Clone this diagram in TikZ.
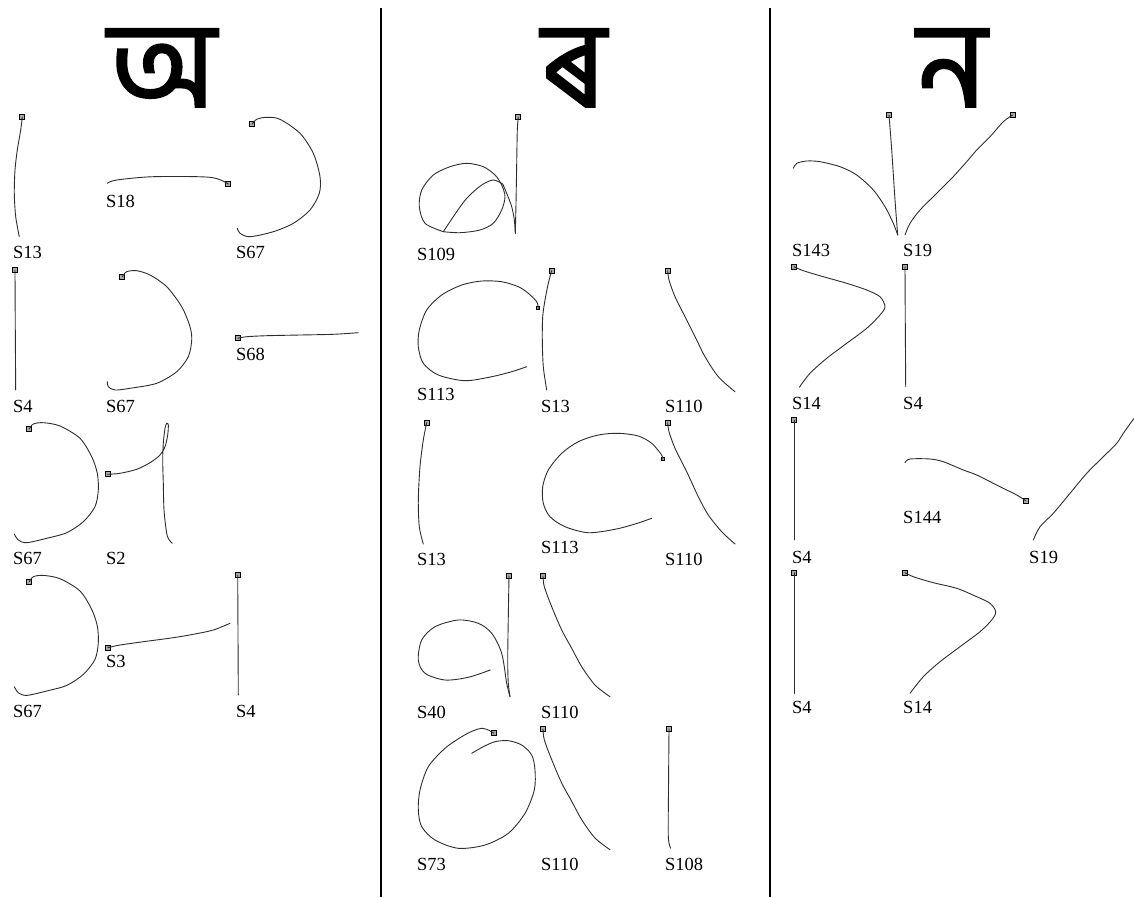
\documentclass[tikz,border=0pt]{standalone}
\usepackage{fontspec}
\setmainfont{Liberation Serif}
\newfontfamily\bngfont[Script=Bengali, FakeBold=1.4]{Hind Siliguri}
\usetikzlibrary{positioning}
\definecolor{inkline}{RGB}{45,45,45}
\definecolor{markfill}{RGB}{170,170,170}
\tikzset{
  pen/.style={draw=inkline, line width=0.9pt, line join=round, line cap=round},
  startpt/.style={rectangle, draw=black, fill=markfill, line width=0.8pt,
    minimum size=5pt, inner sep=0pt},
  lbl/.style={font=\fontsize{18.5}{20}\selectfont, inner sep=0pt, anchor=base west},
  glyph/.style={font=\fontsize{122}{122}\selectfont\bngfont, inner sep=0pt, anchor=base},
  divider/.style={draw=black, line width=1.2pt},
}

\begin{document}
\begin{tikzpicture}[x=1pt, y=-1pt]
\useasboundingbox (0,0) rectangle (1134,897);

%% ─── COLUMN DIVIDERS ───────────────────────────────────────
\coordinate (d1top) at (381,8);
\coordinate (d1bot) at (381,897);
\coordinate (d2top) at (770,8);
\coordinate (d2bot) at (770,897);
\draw[divider] (d1top) -- (d1bot);
\draw[divider] (d2top) -- (d2bot);

%% ─── HEADERS ───────────────────────────────────────────────
\node[glyph] (hdA)  at (162,107) {অ};
\node[glyph] (hdRa) at (574,107) {ৰ};
\node[glyph] (hdNa) at (952,107) {ন};

%% ─── COLUMN 1 : অ ──────────────────────────────────────────
% S13
\node[startpt] (a1) at (22.3,117) {};
\draw[pen] plot[smooth] coordinates {(22.3,117) (20.7,130) (17.3,150) (15,170) (14.3,193.3) (15.7,216.7) (19.3,236.7)};
\node[lbl] (la1) at (13,258) {S13};
% S18
\node[startpt] (a2) at (228.3,184) {};
\draw[pen] plot[smooth] coordinates {(228.3,184) (210,177.3) (153.3,176.7) (116.7,180) (107.3,183.3)};
\node[lbl] (la2) at (106,207) {S18};
% S67
\node[startpt] (a3) at (252.3,124) {};
\draw[pen] plot[smooth] coordinates {(252.3,124) (256.7,119.3) (266.7,117.3) (280,119.3) (300,133.3) (313.3,153.3) (320,176.7) (319.3,193.3) (310,210) (293.3,223.3) (273.3,231.7) (250,236.7) (240,233.3) (237.3,228.3)};
\node[lbl] (la3) at (236,258) {S67};
% S4
\node[startpt] (a4) at (15,270) {};
\draw[pen] plot[smooth] coordinates {(15,270) (15.3,330) (15.7,390)};
\node[lbl] (la4) at (13,412) {S4};
% S67
\node[startpt] (a5) at (122.3,276.7) {};
\draw[pen] plot[smooth] coordinates {(122.3,276.7) (126.7,271.7) (136.7,270.7) (150,275) (166.7,286.7) (181.7,306.7) (190,326.7) (191.7,340) (188.3,356.7) (176.7,371.7) (156.7,383.3) (130,388.3) (115,390) (108.3,386.7) (107.3,381.7)};
\node[lbl] (la5) at (106,412) {S67};
% S68
\node[startpt] (a6) at (237.7,338.3) {};
\draw[pen] plot[smooth] coordinates {(237.7,338.3) (246.7,336.7) (266.7,335.7) (300,335) (333.3,334.3) (358.3,332.7)};
\node[lbl] (la6) at (236,360) {S68};
% S67
\node[startpt] (a7) at (29.3,429) {};
\draw[pen] plot[smooth] coordinates {(29.3,429) (33.3,424) (43.3,422.7) (60,426) (80,438.3) (91.7,456.7) (97.3,473.3) (98.3,490) (95,506.7) (83.3,521.7) (66.7,532.7) (46.7,538.3) (26.7,542.7) (18.3,540) (14.3,534)};
\node[lbl] (la7) at (13,564) {S67};
% S2
\node[startpt] (a8) at (107.7,474.3) {};
\draw[pen] plot[smooth] coordinates {(107.7,474.3) (120,473.3) (136.7,469.3) (150,462.7) (160,455) (165,446.7) (167.7,435) (168.3,425) (166.7,423.3) (165,428.3) (163.3,443.3) (162.7,460) (163.3,483.3) (164,510) (166.7,533.3) (169.3,540) (172.3,543.3)};
\node[lbl] (la8) at (106,564) {S2};
% S67
\node[startpt] (a9) at (29.3,581.7) {};
\draw[pen] plot[smooth] coordinates {(29.3,581.7) (33.3,576.7) (43.3,575.4) (60,578.7) (80,591) (91.7,609.4) (97.3,626) (98.3,642.7) (95,659.4) (83.3,674.4) (66.7,685.4) (46.7,691) (26.7,695.4) (18.3,692.7) (14.3,686.7)};
\node[lbl] (la9) at (13,717) {S67};
% S3
\node[startpt] (a10) at (107.7,647.7) {};
\draw[pen] plot[smooth] coordinates {(107.7,647.7) (120,645) (143.3,641.7) (173.3,637.7) (193.3,634.3) (213.3,630) (230,623.3)};
\node[lbl] (la10) at (106,667) {S3};
% S4
\node[startpt] (a11) at (237.7,575) {};
\draw[pen] plot[smooth] coordinates {(237.7,575) (238,635) (238.3,695)};
\node[lbl] (la11) at (236,717) {S4};

%% ─── COLUMN 2 : ৰ ──────────────────────────────────────────
% S109
\node[startpt] (b1) at (518.3,117.3) {};
\draw[pen] plot[smooth] coordinates {(518.3,117.3) (517.3,130) (516.7,163.3) (516,203.3) (515.3,233.3)};
\draw[pen] plot[smooth] coordinates {(515.3,233.3) (514.3,220) (511.7,206.7) (506.7,193.3) (502.7,184)};
\draw[pen] plot[smooth] coordinates {(502.7,184) (493.3,180) (481.7,185) (466.7,198.3) (453.3,216.7) (443.3,231.7)};
\draw[pen] plot[smooth] coordinates {(443.3,231.7) (460,232.7) (480,230) (493.3,223.3) (501.7,210) (505,196.7) (501.7,185) (495,175) (483.3,166.7) (466.7,163.3) (450,166.7) (433.3,175) (421.7,190) (419.3,206.7) (425,223.3) (443.3,231.7)};
\node[lbl] (lb1) at (417,260) {S109};
% S113
\node[startpt, minimum size=3pt] (b2) at (538.3,308.3) {};
\draw[pen] plot[smooth] coordinates {(538.3,308.3) (536.7,301.7) (528.3,293.3) (518.3,286.7) (501.7,281.7) (481.7,281) (461.7,285) (441.7,295) (426.7,310) (419.3,330) (418.3,346.7) (423.3,363.3) (438.3,375) (465,380.7) (491.7,376.7) (511.7,371.7) (526.7,366.7)};
\node[lbl] (lb2) at (417,400) {S113};
% S13
\node[startpt] (b3) at (551.7,270.7) {};
\draw[pen] plot[smooth] coordinates {(551.7,270.7) (548.3,283.3) (545,300) (542.7,316.7) (542.3,340) (543.3,366.7) (546.7,390)};
\node[lbl] (lb3) at (541,412) {S13};
% S110
\node[startpt] (b4) at (667.7,270.7) {};
\draw[pen] plot[smooth] coordinates {(667.7,270.7) (669,280) (675,296.7) (685,316.7) (696.7,340) (705,356.7) (718.3,376.7) (735,391.7)};
\node[lbl] (lb4) at (665,412) {S110};
% S13
\node[startpt] (b5) at (426.7,422.7) {};
\draw[pen] plot[smooth] coordinates {(426.7,422.7) (423.3,440) (420,466.7) (418.3,500) (419.3,526.7) (423.3,544)};
\node[lbl] (lb5) at (417,565) {S13};
% S113
\node[startpt, minimum size=3pt] (b6) at (662.7,459.3) {};
\draw[pen] plot[smooth] coordinates {(662.7,459.3) (661.7,455) (651.7,443.3) (638.3,436) (618.3,433.3) (598.3,435) (578.3,441.7) (561.7,453.3) (548.3,470) (542.7,486.7) (543.3,503.3) (550,516.7) (565,526.7) (588.3,532.7) (615,529.3) (635,524) (651.7,518.3)};
\node[lbl] (lb6) at (541,553) {S113};
% S110
\node[startpt] (b7) at (667.7,422.7) {};
\draw[pen] plot[smooth] coordinates {(667.7,422.7) (669,431.7) (675,448.3) (686.7,471.7) (698.3,496.7) (708.3,515) (721.7,531.7) (735,544)};
\node[lbl] (lb7) at (665,565) {S110};
% S40
\node[startpt] (b8) at (509,576) {};
\draw[pen] plot[smooth] coordinates {(509,576) (508.3,616.7) (507.7,660) (508.3,683.3) (510,696.7)};
\draw[pen] plot[smooth] coordinates {(510,696.7) (506.7,683.3) (501.7,653.3) (491.7,633.3) (478.3,623.3) (458.3,620) (435,626.7) (421.7,640) (418.3,660) (425,673.3) (445,680) (468.3,677.3) (490.3,670)};
\node[lbl] (lb8) at (417,718) {S40};
% S110
\node[startpt] (b9) at (543,576) {};
\draw[pen] plot[smooth] coordinates {(543,576) (544.3,586.7) (551.7,606.7) (561.7,630) (571.7,648.3) (581.7,666.7) (595,685) (610,696.7)};
\node[lbl] (lb9) at (541,718) {S110};
% S73
\node[startpt] (b10) at (494,733.3) {};
\draw[pen] plot[smooth] coordinates {(494,733.3) (488.3,730) (481.7,728.3) (473.3,730.7) (461.7,736.7) (445,748.3) (428.3,766.7) (420,790) (418.3,810) (421.7,826.7) (435,840) (458.3,848.3) (485,845) (508.3,833.3) (525,813.3) (534.3,790) (535,770) (531.7,755) (521.7,745) (508.3,740.7) (495,741.7) (483.3,746.7) (471.7,753.3)};
\node[lbl] (lb10) at (417,870) {S73};
% S110
\node[startpt] (b11) at (543,729) {};
\draw[pen] plot[smooth] coordinates {(543,729) (544.3,739.7) (551.7,759.7) (561.7,783) (571.7,801.3) (581.7,819.7) (595,838) (610,849.7)};
\node[lbl] (lb11) at (541,870) {S110};
% S108
\node[startpt] (b12) at (669,729) {};
\draw[pen] plot[smooth] coordinates {(669,729) (668.5,790) (668.3,836.7) (670.7,848.3)};
\node[lbl] (lb12) at (665,870) {S108};

%% ─── COLUMN 3 : ন ──────────────────────────────────────────
% S143
\node[startpt] (c1) at (889,115) {};
\draw[pen] plot[smooth] coordinates {(889,115) (891.7,150) (895,200) (897.7,235)};
\draw[pen] plot[smooth] coordinates {(897.7,235) (893.3,223.3) (885,206.7) (873.3,190) (856.7,175) (840,166.7) (820,161.7) (806.7,161) (796.7,163.3) (793.3,168.3)};
\node[lbl] (lc1) at (792,256) {S143};
% S19
\node[startpt] (c2) at (1012.7,115) {};
\draw[pen] plot[smooth] coordinates {(1012.7,115) (1003.3,121.7) (990,136.7) (976.7,150) (966.7,161.7) (951.7,178.3) (936.7,193.3) (920,210) (910,223.3) (905,235)};
\node[lbl] (lc2) at (903,256) {S19};
% S14
\node[startpt] (c3) at (794,266.7) {};
\draw[pen] plot[smooth] coordinates {(794,266.7) (803.3,270.7) (823.3,276.7) (846.7,283.3) (866.7,290) (880,296.7) (885,306.7) (880,315) (866.7,328.3) (846.7,343.3) (826.7,358.3) (810,373.3) (799.3,387.3)};
\node[lbl] (lc3) at (792,409) {S14};
% S4
\node[startpt] (c4) at (905,266.7) {};
\draw[pen] plot[smooth] coordinates {(905,266.7) (905.3,326) (905.7,386.7)};
\node[lbl] (lc4) at (903,409) {S4};
% S4
\node[startpt] (c5) at (794,420) {};
\draw[pen] plot[smooth] coordinates {(794,420) (794,480) (794,540)};
\node[lbl] (lc5) at (792,563) {S4};
% S144
\node[startpt] (c6) at (1025.7,500.7) {};
\draw[pen] plot[smooth] coordinates {(1025.7,500.7) (1016.7,495) (1000,486.7) (976.7,475) (963.3,470) (943.3,461.7) (930,459) (910,459) (905,462.7)};
\node[lbl] (lc6) at (903,523) {S144};
% S19 (start lies beyond the right edge)
\draw[pen] plot[smooth] coordinates {(1134,418.3) (1123.3,433.3) (1116.7,443.3) (1103.3,456.7) (1086.7,473.3) (1070,493.3) (1053.3,513.3) (1040,526.7) (1033.3,540)};
\node[lbl] (lc7) at (1029,563) {S19};
% S4
\node[startpt] (c8) at (794,572.7) {};
\draw[pen] plot[smooth] coordinates {(794,572.7) (794,633) (794,693.3)};
\node[lbl] (lc8) at (792,713) {S4};
% S14
\node[startpt] (c9) at (905,572.7) {};
\draw[pen] plot[smooth] coordinates {(905,572.7) (913.3,576.7) (933.3,582.7) (956.7,588.3) (976.7,596.7) (990,603.3) (995.7,611.7) (991.7,620) (980,631.7) (960,646.7) (940,661.7) (923.3,676.7) (910,693.3)};
\node[lbl] (lc9) at (903,713) {S14};

\end{tikzpicture}
\end{document}
